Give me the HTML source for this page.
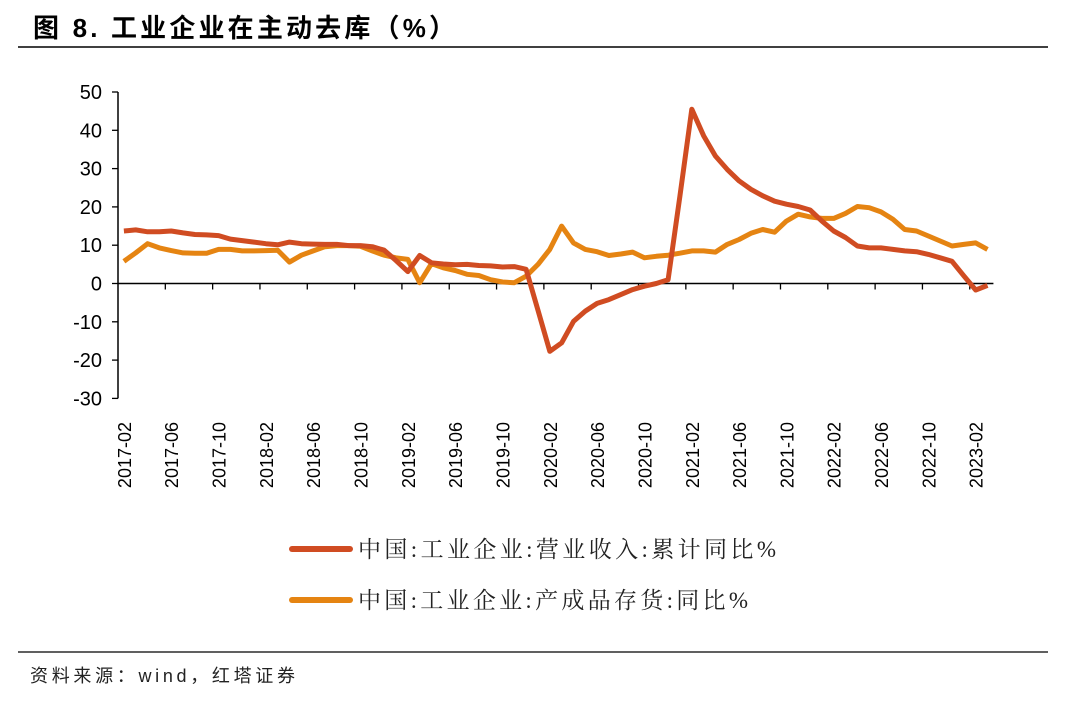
<!DOCTYPE html>
<html><head><meta charset="utf-8">
<style>
body{margin:0;background:#fff;width:1080px;height:701px;overflow:hidden;font-family:"Liberation Sans","Noto Sans CJK SC",sans-serif;}
</style></head>
<body>
<svg width="1080" height="701" xmlns="http://www.w3.org/2000/svg">
<text x="33" y="37" font-size="26" font-weight="bold" textLength="422" lengthAdjust="spacing" font-family="Liberation Sans, Noto Sans CJK SC, sans-serif" fill="#000">图 8. 工业企业在主动去库（%）</text>
<line x1="18" y1="47" x2="1048" y2="47" stroke="#000" stroke-width="1.5"/>
<g id="plot"></g>
<g>
<g>
<line x1="292" y1="549" x2="350" y2="549" stroke="#d04c22" stroke-width="6" stroke-linecap="round"/>
<text x="358" y="557" font-size="23" textLength="418" lengthAdjust="spacing" font-family="Liberation Serif, Noto Serif CJK SC, serif" fill="#222">中国:工业企业:营业收入:累计同比%</text></g>
<g>
<line x1="292" y1="600" x2="350" y2="600" stroke="#e58412" stroke-width="6" stroke-linecap="round"/>
<text x="358" y="608" font-size="23" textLength="390" lengthAdjust="spacing" font-family="Liberation Serif, Noto Serif CJK SC, serif" fill="#222">中国:工业企业:产成品存货:同比%</text></g>
</g>
<line x1="18" y1="652" x2="1048" y2="652" stroke="#000" stroke-width="1.2"/>
<text x="30" y="682" font-size="18" textLength="265" lengthAdjust="spacing" fill="#222">资料来源：wind，红塔证券</text>
</svg>
<script>
const revenue=[13.7,14.0,13.5,13.5,13.7,13.2,12.8,12.7,12.5,11.6,11.2,10.8,10.4,10.1,10.8,10.4,10.3,10.2,10.2,9.9,9.9,9.6,8.7,6.0,3.1,7.3,5.4,5.1,4.9,5.0,4.7,4.6,4.3,4.4,3.7,-7.0,-17.7,-15.5,-9.9,-7.2,-5.2,-4.2,-2.9,-1.6,-0.7,0.0,1.0,22.8,45.5,38.6,33.3,29.8,26.8,24.6,22.9,21.5,20.7,20.1,19.2,16.3,13.7,12.0,9.8,9.3,9.3,8.9,8.5,8.3,7.6,6.7,5.8,2.0,-1.7,-0.5];
const inventory=[5.8,8.0,10.4,9.3,8.6,8.0,7.9,7.9,8.9,8.9,8.5,8.5,8.6,8.7,5.6,7.4,8.5,9.6,9.9,9.9,9.7,8.5,7.4,6.7,6.3,0.2,5.2,4.1,3.4,2.4,2.1,1.0,0.4,0.2,1.9,5.0,8.9,15.0,10.6,8.9,8.3,7.3,7.7,8.2,6.7,7.1,7.4,7.9,8.5,8.5,8.2,10.2,11.5,13.1,14.1,13.4,16.3,18.1,17.4,17.0,17.0,18.3,20.1,19.8,18.7,16.8,14.1,13.7,12.4,11.1,9.8,10.2,10.6,8.9];
const yTicks=[50,40,30,20,10,0,-10,-20,-30];
const xLabels=["2017-02","2017-06","2017-10","2018-02","2018-06","2018-10","2019-02","2019-06","2019-10","2020-02","2020-06","2020-10","2021-02","2021-06","2021-10","2022-02","2022-06","2022-10","2023-02"];
const NS="http://www.w3.org/2000/svg";
const g=document.getElementById('plot');
const x0=118,step=11.83,y50=92,y0=283.5;
const ppu=(y0-y50)/50;
const X=i=>x0+(i+0.5)*step;
const Y=v=>y0-v*ppu;
function mk(t,a){const e=document.createElementNS(NS,t);for(const k in a)e.setAttribute(k,a[k]);g.appendChild(e);return e;}
yTicks.forEach(v=>{
 const l=mk('line',{x1:x0-6,x2:x0,y1:Y(v),y2:Y(v),stroke:'#000','stroke-width':1.3});
 
 
 const t=mk('text',{x:x0-16,y:Y(v)+7,'font-size':20,'text-anchor':'end',fill:'#000'});
 t.textContent=v;
 
 
});
const ax=mk('line',{x1:x0,x2:x0,y1:Y(50),y2:Y(-30),stroke:'#000','stroke-width':1.5});


const n=revenue.length;
const xa=mk('line',{x1:x0,x2:x0+n*step,y1:Y(0),y2:Y(0),stroke:'#000','stroke-width':1.5});


for(let k=1;k*4<=n;k++){
 const tx=x0+k*4*step;
 const l=mk('line',{x1:tx,x2:tx,y1:Y(0),y2:Y(0)+6,stroke:'#000','stroke-width':1.3});
 
 
}
xLabels.forEach((s,k)=>{
 const cx=X(k*4)+7;
 const t=mk('text',{x:0,y:0,'font-size':18,'text-anchor':'end',fill:'#000',transform:`translate(${cx},${422}) rotate(-90)`});
 t.textContent=s;
 
 
});
function series(arr,color,name){
 const d=arr.map((v,i)=>(i?'L':'M')+X(i).toFixed(1)+','+Y(v).toFixed(1)).join('');
 const p=mk('path',{d:d,fill:'none',stroke:color,'stroke-width':5,'stroke-linejoin':'round'});
 
 
}
series(inventory,'#e58412','inventory-line');
series(revenue,'#d04c22','revenue-line');
</script>
</body></html>
